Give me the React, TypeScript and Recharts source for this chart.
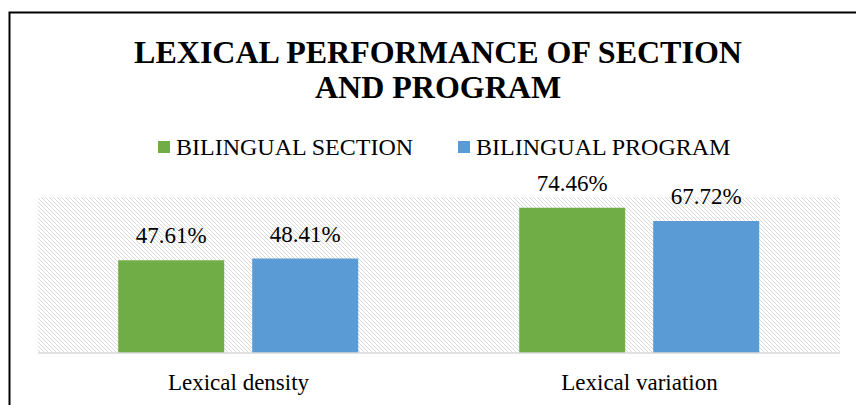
import React from 'react';
import { BarChart, Bar, XAxis, YAxis, CartesianGrid, LabelList } from 'recharts';

const categories = ['Lexical density', 'Lexical variation'];
const sectionValues = [47.61, 74.46];
const programValues = [48.41, 67.72];
const seriesNames = ['BILINGUAL SECTION', 'BILINGUAL PROGRAM'];
const titleLines = ['LEXICAL PERFORMANCE OF SECTION', 'AND PROGRAM'];

const GREEN = '#70AD47';
const BLUE = '#5B9BD5';
const FONT = '"Liberation Serif", "Times New Roman", serif';

const data = categories.map((name, i) => ({
  name,
  section: sectionValues[i],
  program: programValues[i],
}));

const AxisTick = (props: any) => {
  const { x, y, payload } = props;
  return (
    <text x={x} y={y + 37} textAnchor="middle" fill="#000" style={{ fontFamily: FONT, fontSize: 23 }}>
      {payload.value}
    </text>
  );
};

// value label sitting above each bar
const ValueLabel = (props: any) => {
  const { x, y, width, value } = props;
  return (
    <text x={x + width / 2} y={y - 17} textAnchor="middle" fill="#000" style={{ fontFamily: FONT, fontSize: 23 }}>
      {`${Number(value).toFixed(2)}%`}
    </text>
  );
};

const App = () => {
  const textStyle = { fontFamily: FONT, fontSize: 24 };
  return (
    <div style={{ position: 'fixed', left: 0, top: 0, width: 856, height: 405, background: '#fff' }}>
      <svg width={856} height={405} style={{ position: 'absolute', left: 0, top: 0 }}>
        <defs>
          <pattern id="hatch" width="4" height="4" patternUnits="userSpaceOnUse">
            <path d="M0,0 L4,4 M-1,3 L1,5 M3,-1 L5,1" stroke="#dadada" strokeWidth={1} />
          </pattern>
        </defs>
        <path d="M9.5,405 L9.5,12.5 L856,12.5" fill="none" stroke="#000" strokeWidth={2} />
        {titleLines.map((t, i) => (
          <text key={t} x={438} y={62.5 + i * 35} textAnchor="middle" fill="#000"
            style={{ fontFamily: FONT, fontWeight: 'bold', fontSize: 32 }}>
            {t}
          </text>
        ))}
        <rect x={158} y={141} width={12} height={12} fill={GREEN} />
        <text x={176} y={155} fill="#000" style={textStyle}>{seriesNames[0]}</text>
        <rect x={458} y={141} width={12} height={12} fill={BLUE} />
        <text x={476} y={155} fill="#000" style={textStyle}>{seriesNames[1]}</text>
      </svg>
      <div style={{ position: 'absolute', left: 0, top: 0 }}>
        <BarChart
          width={856}
          height={405}
          data={data}
          margin={{ top: 197, right: 16, bottom: 0, left: 38 }}
          barCategoryGap="20%"
          barGap={28}
        >
          <CartesianGrid horizontal={false} vertical={false} fill="url(#hatch)" stroke="none" />
          <XAxis
            dataKey="name"
            height={52}
            tickLine={false}
            tickSize={0}
            tickMargin={0}
            axisLine={{ stroke: '#d9d9d9', strokeWidth: 1.5 }}
            tick={<AxisTick />}
          />
          <YAxis hide domain={[0, 80]} />
          <Bar dataKey="section" name={seriesNames[0]} fill={GREEN} isAnimationActive={false}>
            <LabelList dataKey="section" content={<ValueLabel />} />
          </Bar>
          <Bar dataKey="program" name={seriesNames[1]} fill={BLUE} isAnimationActive={false}>
            <LabelList dataKey="program" content={<ValueLabel />} />
          </Bar>
        </BarChart>
      </div>
    </div>
  );
};

export default App;
